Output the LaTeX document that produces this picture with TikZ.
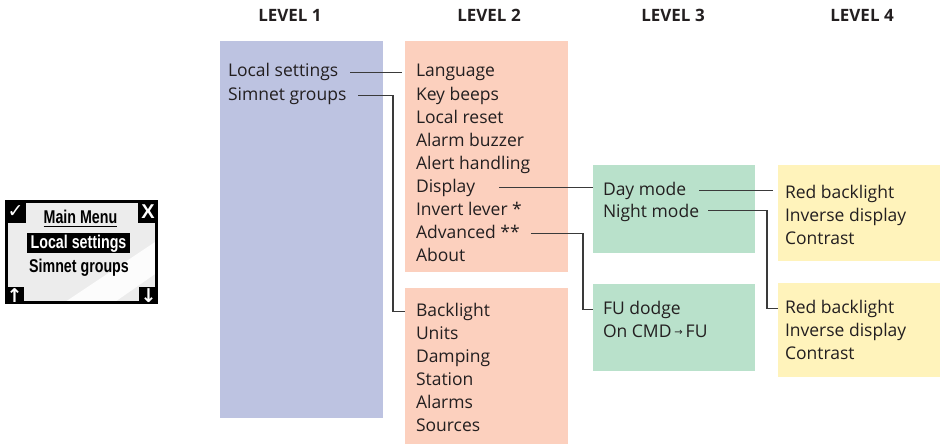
\documentclass[tikz,border=0pt]{standalone}
\usepackage{fontspec}
\setmainfont{Open Sans}
\newfontfamily\lcdfont{Liberation Sans}
\newfontfamily\symfont{DejaVu Sans}
\usetikzlibrary{calc}
\definecolor{lvlone}{HTML}{BDC3E1}
\definecolor{lvltwo}{HTML}{FCD0BE}
\definecolor{lvlthree}{HTML}{B9E1CB}
\definecolor{lvlfour}{HTML}{FFF3BB}
\definecolor{txt}{HTML}{231F20}
\definecolor{wirec}{HTML}{3A3A3A}
\definecolor{screenc}{HTML}{ECECEC}
\begin{document}
\begin{tikzpicture}[x=1pt,y=-1pt,
  panel/.style={inner sep=0pt,outer sep=0pt,draw=none},
  item/.style={anchor=base west,inner sep=0pt,outer sep=0pt,text=txt,
    font=\fontsize{17.5}{21}\selectfont,text height=12.6pt,text depth=4.2pt},
  header/.style={anchor=base,inner sep=0pt,text=txt,font=\bfseries\fontsize{17}{20}\selectfont},
  wire/.style={draw=wirec,line width=1.1pt},
  lcdtext/.style={anchor=base,inner sep=0pt,font=\lcdfont\bfseries\fontsize{18.5}{20}\selectfont,xscale=0.77},
  lcdsym/.style={inner sep=0pt,text=white,font=\symfont\bfseries\fontsize{19}{19}\selectfont}
]
\useasboundingbox (0,0) rectangle (944,444);

% panels
\node[panel,fill=lvlone,minimum width=163pt,minimum height=377pt] (l1) at (301.5,229.5) {};
\node[panel,fill=lvltwo,minimum width=163pt,minimum height=231pt] (l2a) at (486.5,156.5) {};
\node[panel,fill=lvltwo,minimum width=163pt,minimum height=156pt] (l2b) at (486.5,366) {};
\node[panel,fill=lvlthree,minimum width=162pt,minimum height=88pt] (l3a) at (674,209) {};
\node[panel,fill=lvlthree,minimum width=162pt,minimum height=87pt] (l3b) at (674,327.5) {};
\node[panel,fill=lvlfour,minimum width=162pt,minimum height=96pt] (l4a) at (859,213) {};
\node[panel,fill=lvlfour,minimum width=162pt,minimum height=94pt] (l4b) at (859,330) {};

% headers
\node[header] (h1) at (290,22) {LEVEL 1};
\node[header] (h2) at (489,22) {LEVEL 2};
\node[header] (h3) at (673,22) {LEVEL 3};
\node[header] (h4) at (862,22) {LEVEL 4};

% level 1
\node[item] (ls) at (228,77) {Local settings};
\node[item] (sg) at (228,100) {Simnet groups};

% level 2 top
\node[item] (lang) at (416,77) {Language};
\node[item] (kb) at (416,100) {Key beeps};
\node[item] (lr) at (416,123) {Local reset};
\node[item] (ab) at (416,146) {Alarm buzzer};
\node[item] (ah) at (416,169) {Alert handling};
\node[item] (disp) at (416,192) {Display};
\node[item] (il) at (416,215) {Invert lever *};
\node[item] (adv) at (416,238) {Advanced **};
\node[item] (abt) at (416,261) {About};

% level 2 bottom
\node[item] (bl) at (416,316) {Backlight};
\node[item] (un) at (416,339) {Units};
\node[item] (dmp) at (416,362) {Damping};
\node[item] (st) at (416,385) {Station};
\node[item] (al) at (416,408) {Alarms};
\node[item] (src) at (416,431) {Sources};

% level 3
\node[item] (day) at (603,195) {Day mode};
\node[item] (night) at (603,217) {Night mode};
\node[item] (fu) at (603,314) {FU dodge};
\node[item] (cmd) at (603,337) {On CMD\,{\symfont\fontsize{10}{10}\selectfont\raisebox{2pt}{→}}\,FU};

% level 4
\node[item] (rb1) at (785,198) {Red backlight};
\node[item] (id1) at (785,221) {Inverse display};
\node[item] (ct1) at (785,244) {Contrast};
\node[item] (rb2) at (785,313) {Red backlight};
\node[item] (id2) at (785,336) {Inverse display};
\node[item] (ct2) at (785,359) {Contrast};

% connectors
\draw[wire] ([xshift=12pt]ls.east) -- ($(ls.east -| lang.west)+(-14,0)$);
\draw[wire] ([xshift=12pt]sg.east) -| ($(bl.west)+(-23,0)$) -- (bl.west -| l2b.west);
\draw[wire] ([xshift=24pt]disp.east) -- (disp.east -| l3a.west);
\draw[wire] ([xshift=11pt]adv.east) -| ($(fu.west)+(-20,0)$) -- (fu.west -| l3b.west);
\draw[wire] ([xshift=13pt]day.east) -- ($(day.east -| l4a.west)+(-5,0)$);
\draw[wire] ([xshift=9pt,yshift=2pt]night.east) -| ($(rb2.west)+(-18,0)$) -- (rb2.west -| l4b.west);

% LCD icon
\fill[screenc] (5,200) rectangle (158,304);
\fill[white,opacity=0.85] (62,304) -- (158,240) -- (158,272) -- (112,304) -- cycle;
\draw[black,line width=3pt] (6.5,201.5) rectangle (156.5,302.5);
\fill[black] (5,200) rectangle (26,223);
\fill[black] (138,200) rectangle (158,223);
\fill[black] (5,287) rectangle (24,304);
\fill[black] (139,287) rectangle (158,304);
\node[lcdsym] (ck) at (15.5,211.5) {✓};
\node[lcdsym,font=\lcdfont\bfseries\fontsize{20}{20}\selectfont] (xx) at (148,211.5) {X};
\node[lcdsym] (up) at (14.5,295.5) {↑};
\node[lcdsym] (dn) at (148.5,295.5) {↓};
\node[lcdtext] (mm) at (80.5,223.5) {Main Menu};
\draw[black,line width=1.3pt] ([yshift=-3pt]mm.base west) -- ([yshift=-3pt]mm.base east);
\fill[black] (27,233) rectangle (130,253);
\node[lcdtext,text=white] (lsd) at (78.5,248.5) {Local settings};
\node[lcdtext] (sgd) at (79,272) {Simnet groups};
\end{tikzpicture}
\end{document}
